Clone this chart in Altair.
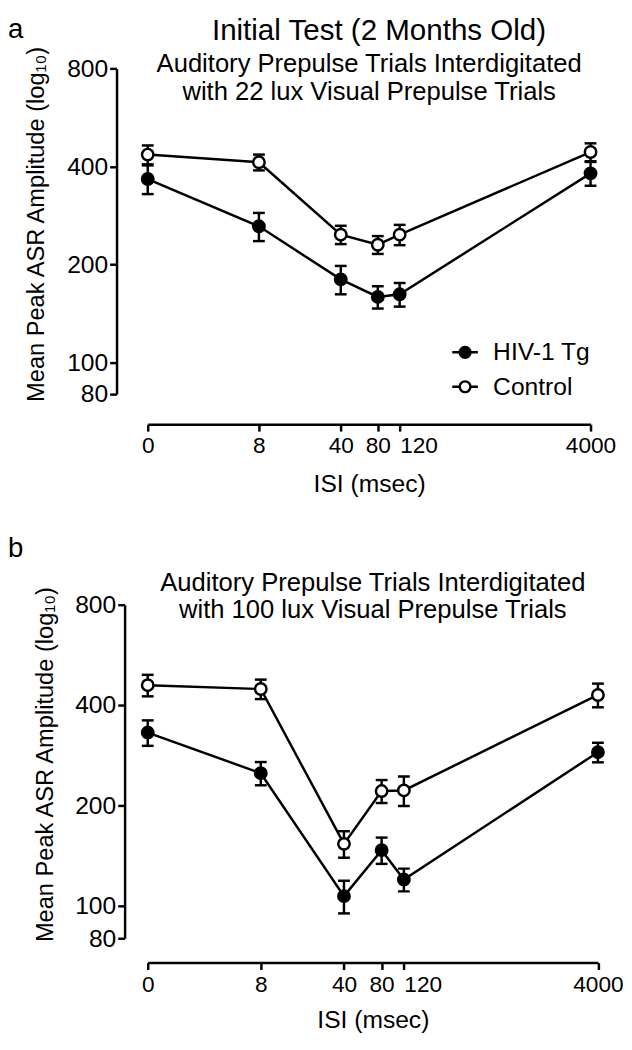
import altair as alt
import pandas as pd

# ---------------- data ----------------
isi = [0, 8, 40, 80, 120, 4000]
groups = ["HIV-1 Tg", "Control"]

a_hiv_mean = [366, 262, 180, 159, 162, 381]
a_hiv_sem = [37, 26, 18, 12.5, 13.5, 32]
a_ctl_mean = [435, 412, 247, 230, 247, 443]
a_ctl_sem = [29, 23, 16, 14.5, 17.7, 28]

b_hiv_mean = [331, 250, 107, 147, 120, 289]
b_hiv_sem = [29, 20, 12, 13.3, 9.4, 19.5]
b_ctl_mean = [459, 447, 153.5, 221, 222, 429]
b_ctl_sem = [34, 30, 14, 17.5, 22.5, 35]

y_ticks = [80, 100, 200, 400, 800]
main_title = "Initial Test (2 Months Old)"
sub_a = ["Auditory Prepulse Trials Interdigitated", "with 22 lux Visual Prepulse Trials"]
sub_b = ["Auditory Prepulse Trials Interdigitated", "with 100 lux Visual Prepulse Trials"]
x_title = "ISI (msec)"
y_title = "Mean Peak ASR Amplitude (log\u2081\u2080)"

FONT = "Liberation Sans"
LW = 2.5


def make_df(hiv, hiv_sem, ctl, ctl_sem):
    rows = []
    for g, means, sems in ((groups[0], hiv, hiv_sem), (groups[1], ctl, ctl_sem)):
        for x, m, s in zip(isi, means, sems):
            rows.append({"isi": x, "group": g, "mean": m, "lo": m - s, "hi": m + s})
    return pd.DataFrame(rows)


LEGEND_PATH = ("M-1,0L-0.42,0M0.42,0L1,0M0.42,0"
               "A0.42,0.42,0,1,1,-0.42,0A0.42,0.42,0,1,1,0.42,0Z")


def panel(df, W, H, xoff, yoff, title_y, letter, letter_y, subtitle, sub_y,
          legend, extra_title=None, x_title_pad=10):
    xs = alt.Scale(type="symlog", constant=1.2, domain=[0, 4000], nice=False)
    ys = alt.Scale(type="log", domain=[80, 800], nice=False)
    xaxis = alt.Axis(values=isi, format="d", title=x_title, offset=xoff, grid=False,
                     tickSize=7, tickWidth=LW, tickColor="black",
                     domainWidth=LW, domainColor="black",
                     labelFont=FONT, labelFontSize=23, labelColor="black",
                     labelPadding=4, labelFlush=False, labelOverlap=False,
                     labelAlign=alt.condition("datum.value == 120",
                                              alt.value("left"), alt.value("center")),
                     titleFont=FONT, titleFontSize=25, titleFontWeight="normal",
                     titleColor="black", titlePadding=x_title_pad)
    yaxis = alt.Axis(values=y_ticks, format="d", title=y_title, offset=yoff,
                     grid=False, tickSize=7, tickWidth=LW, tickColor="black",
                     domainWidth=LW, domainColor="black",
                     labelFont=FONT, labelFontSize=25, labelColor="black",
                     labelPadding=2, labelOverlap=False,
                     titleFont=FONT, titleFontSize=24, titleFontWeight="normal",
                     titleColor="black", titlePadding=18, titleY=title_y)
    X = alt.X("isi:Q", scale=xs, axis=xaxis)
    fill_scale = alt.Scale(domain=groups, range=["black", "white"])
    if legend:
        leg = alt.Legend(title=None, orient="none", legendX=308, legendY=274,
                         symbolType=LEGEND_PATH, symbolSize=676,
                         symbolStrokeColor="black", symbolStrokeWidth=LW,
                         symbolOpacity=1, labelFont=FONT, labelFontSize=25,
                         labelColor="black", labelOffset=14, rowPadding=7)
    else:
        leg = None
    base = alt.Chart(df)
    rules = base.mark_rule(color="black", strokeWidth=LW).encode(
        x=X, y=alt.Y("lo:Q", scale=ys, axis=yaxis), y2="hi:Q")
    cap_lo = base.mark_tick(orient="horizontal", size=12, thickness=LW,
                            color="black", opacity=1).encode(
        x=X, y=alt.Y("lo:Q", scale=ys, axis=yaxis))
    cap_hi = base.mark_tick(orient="horizontal", size=12, thickness=LW,
                            color="black", opacity=1).encode(
        x=X, y=alt.Y("hi:Q", scale=ys, axis=yaxis))
    lines = base.mark_line(color="black", strokeWidth=LW).encode(
        x=X, y=alt.Y("mean:Q", scale=ys, axis=yaxis), detail="group:N")
    pts = base.mark_point(shape="circle", size=135, stroke="black",
                          strokeWidth=LW, opacity=1, fillOpacity=1).encode(
        x=X, y=alt.Y("mean:Q", scale=ys, axis=yaxis),
        fill=alt.Fill("group:N", scale=fill_scale, legend=leg))
    one = alt.Chart(pd.DataFrame({"k": [0]}))
    texts = [
        one.mark_text(text=letter, x=-142, y=letter_y, align="left",
                      baseline="top", font=FONT, fontSize=28,
                      color="black"),
        one.mark_text(text=subtitle, x=W / 2, y=sub_y, align="center",
                      baseline="alphabetic", font=FONT, fontSize=26,
                      lineHeight=28, color="black"),
    ]
    if extra_title:
        texts.append(one.mark_text(text=extra_title, x=235, y=letter_y,
                                   align="center", baseline="top", font=FONT,
                                   fontSize=30, color="black"))
    return alt.layer(rules, cap_lo, cap_hi, lines, pts, *texts).properties(
        width=W, height=H)


df_a = make_df(a_hiv_mean, a_hiv_sem, a_ctl_mean, a_ctl_sem)
df_b = make_df(b_hiv_mean, b_hiv_sem, b_ctl_mean, b_ctl_sem)

pa = panel(df_a, 450, 331, 30.6, 31.7, 158, "a", -53, sub_a, 4, True,
           extra_title=main_title, x_title_pad=14)
pb = panel(df_b, 457.5, 339, 24.7, 23.5, 162, "b", -70, sub_b, -14, False,
           x_title_pad=12)

chart = alt.vconcat(pa, pb, spacing=40).resolve_scale(fill="independent").properties(
    padding=0).configure_view(strokeWidth=0)

chart.save("out.html", embed_options={"renderer": "svg", "actions": False})
